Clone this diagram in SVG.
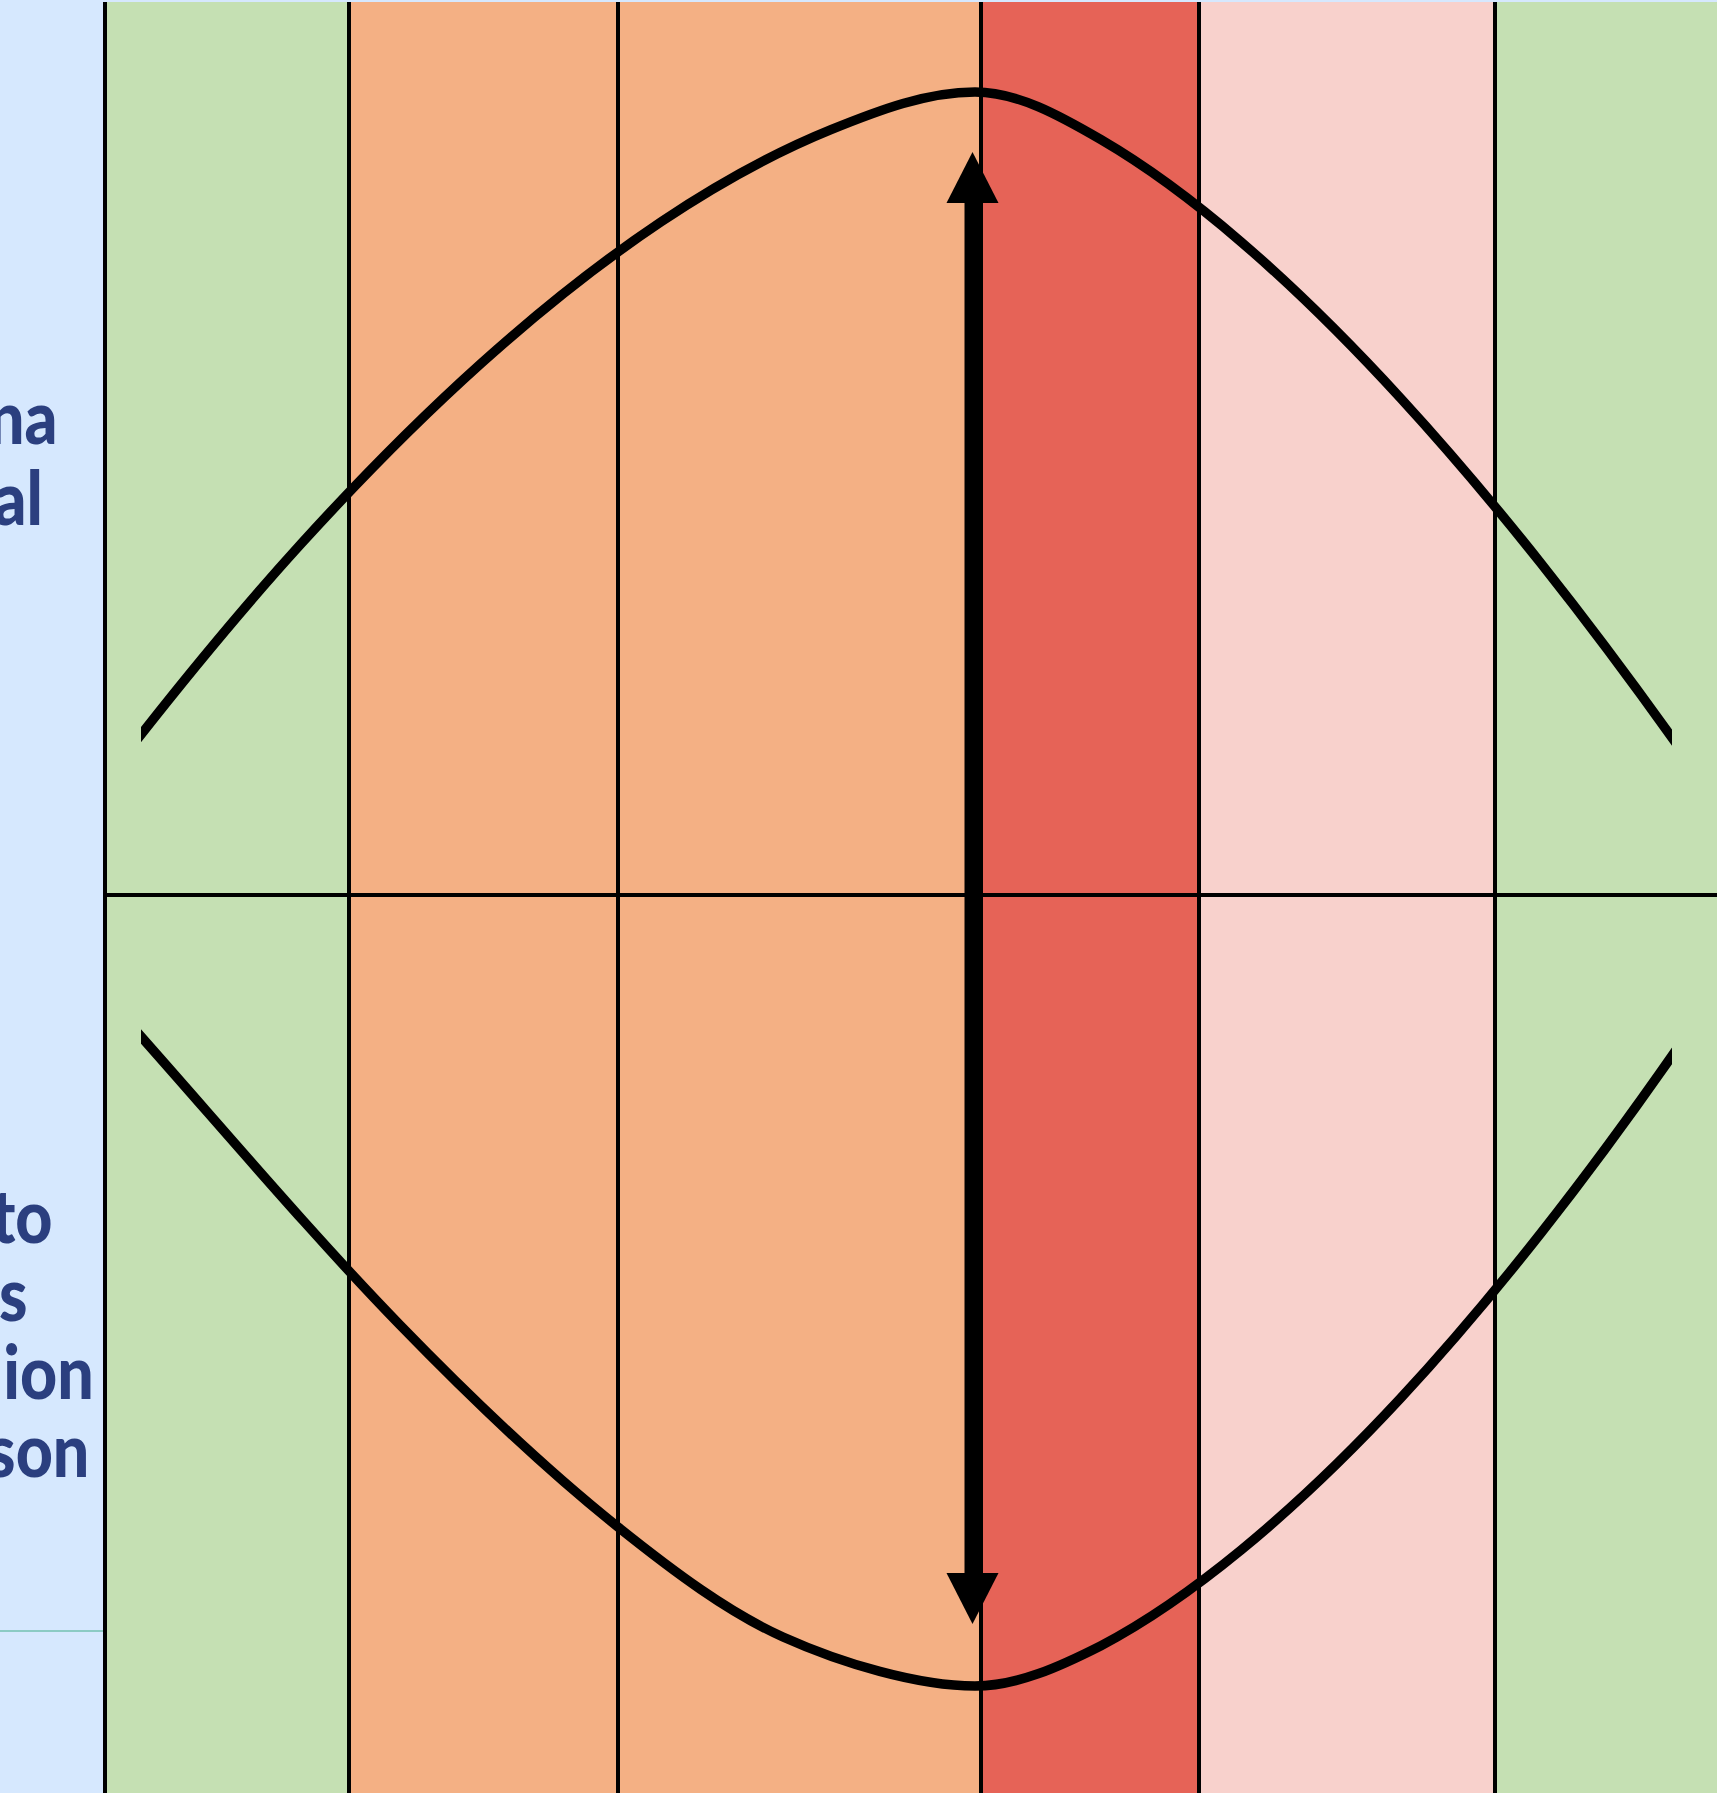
<svg xmlns="http://www.w3.org/2000/svg" width="1717" height="1793" viewBox="0 0 1717 1793">
  <style>
    .grid { stroke: #000; stroke-width: 4; fill: none; }
    .curve { stroke: #000; stroke-width: 9.5; fill: none; stroke-linejoin: round; }
    .lbl { font-family: "Lato", "Liberation Sans", sans-serif; font-weight: 900; font-size: 75px; fill: #2B3F7F; text-anchor: end; }
  </style>
  <defs>
    <clipPath id="curveClip">
      <rect x="141" y="0" width="1531" height="1793"/>
    </clipPath>
    <marker id="head" markerUnits="userSpaceOnUse" markerWidth="52" markerHeight="52" viewBox="0 0 50 51" refX="0" refY="25.5" orient="auto-start-reverse" overflow="visible">
      <path d="M0,0 L50,25.5 L0,51 Z" fill="#000"/>
    </marker>
  </defs>

  <g id="background">
    <rect x="0" y="0" width="1717" height="1793" fill="#D6E8FE"/>
    <rect x="105" y="2" width="244" height="1791" fill="#C5E0B3"/>
    <rect x="349" y="2" width="632" height="1791" fill="#F4B084"/>
    <rect x="981" y="2" width="218" height="1791" fill="#E66357"/>
    <rect x="1199" y="2" width="296" height="1791" fill="#F8D1CC"/>
    <rect x="1495" y="2" width="222" height="1791" fill="#C5E0B3"/>
    <line x1="0" y1="1631" x2="105" y2="1631" stroke="#8CCBC4" stroke-width="2"/>
  </g>

  <g id="labels" transform="scale(0.86 1)">
    <text class="lbl" x="67" y="444">na</text>
    <text class="lbl" x="50" y="525">al</text>
    <text class="lbl" x="61" y="1243">to</text>
    <text class="lbl" x="32" y="1321">s</text>
    <text class="lbl" x="109" y="1399">ion</text>
    <text class="lbl" x="104" y="1477">son</text>
  </g>

  <g id="grid">
    <line class="grid" x1="105" y1="2" x2="105" y2="1793"/>
    <line class="grid" x1="349" y1="2" x2="349" y2="1793"/>
    <line class="grid" x1="618" y1="2" x2="618" y2="1793"/>
    <line class="grid" x1="981" y1="2" x2="981" y2="1793"/>
    <line class="grid" x1="1199" y1="2" x2="1199" y2="1793"/>
    <line class="grid" x1="1495" y1="2" x2="1495" y2="1793"/>
    <line class="grid" x1="105" y1="895" x2="1717" y2="895"/>
  </g>

  <g id="curves" clip-path="url(#curveClip)">
    <path id="upper-curve" class="curve" d="M121,760.1 C181,683.0 241,609.9 301,543.9 C361,477.9 421,417.4 481,363.5 C541,309.6 601,262.0 661,221.9 C717.7,184.0 774.3,152.7 831,129.7 C879,110.2 927,92 975,92 C1017,92 1059,115.2 1101,139.7 C1147.7,166.9 1194.3,201.7 1241,241.8 C1294.3,287.6 1347.7,340.4 1401,398.6 C1447.7,449.5 1494.3,504.6 1541,563.4 C1590.7,626.0 1640.3,692.6 1690,763"/>
    <path id="lower-curve" class="curve" d="M121,1014 C214,1118.2 307,1229.2 400,1325 C472.7,1399.9 545.3,1468.9 618,1527 C673,1571 728,1612.25 783,1637 C842,1663.5 918,1686 975,1686 C1017,1686 1059,1667 1101,1645.7 C1147.7,1621.1 1194.3,1588.4 1241,1550.1 C1294.3,1506.4 1347.7,1455.3 1401,1397.8 C1447.7,1347.5 1494.3,1292.3 1541,1233.0 C1590.7,1169.9 1640.3,1102.1 1690,1029.9"/>
  </g>

  <g id="connectors">
    <line id="double-arrow" x1="972.5" y1="203" x2="972.5" y2="1573" stroke="#000" stroke-width="16" marker-start="url(#head)" marker-end="url(#head)"/>
  </g>
</svg>
